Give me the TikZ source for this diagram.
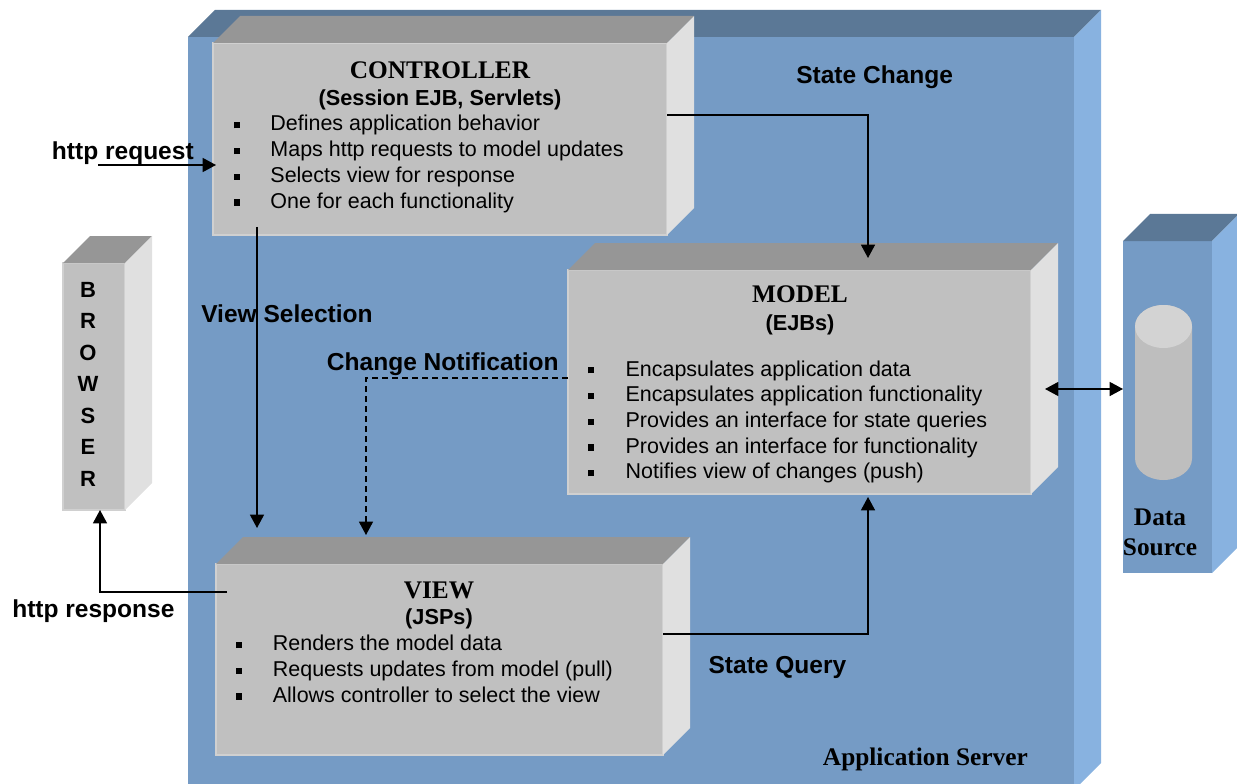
\documentclass[tikz,border=0pt]{standalone}
\usepackage{fontspec}
\setmainfont{Liberation Serif}
\newfontfamily\labfont{Liberation Sans}
\usetikzlibrary{arrows.meta,calc,fit}

\definecolor{srvFront}{HTML}{759BC5}
\definecolor{srvTop}{HTML}{5B7896}
\definecolor{srvSide}{HTML}{88B2E0}
\definecolor{boxFront}{HTML}{C0C0C0}
\definecolor{boxTop}{HTML}{969696}
\definecolor{boxSide}{HTML}{E0E0E0}
\definecolor{boxRim}{HTML}{D0D0D0}
\definecolor{cylBody}{HTML}{BEBEBE}
\definecolor{cylTop}{HTML}{D3D3D3}

% top and right faces of a block whose front face is the node #1
\newcommand\boxfaces[3]{%
  \fill[#2] (#1.north west) -- ++(27,-27) -- ($(#1.north east)+(27,-27)$) -- (#1.north east) -- cycle;
  \fill[#3] (#1.north east) -- ++(27,-27) -- ($(#1.south east)+(27,-27)$) -- (#1.south east) -- cycle;
}
\newcommand\sqb{\rule[2pt]{4.6pt}{4.6pt}}

\tikzset{
  srvface/.style={fill=srvFront, inner sep=0pt, outer sep=0pt},
  grayface/.style={fill=boxFront, draw=boxRim, line width=1pt, inner sep=0pt, outer sep=0pt},
  title/.style={font=\fontsize{19pt}{22pt}\selectfont\bfseries, anchor=base, inner sep=0pt},
  subtitle/.style={font=\labfont\fontsize{16.3pt}{19pt}\selectfont\bfseries, anchor=base, inner sep=0pt},
  flowlabel/.style={font=\labfont\fontsize{18.4pt}{22pt}\selectfont\bfseries, anchor=base west, inner sep=0pt},
  letter/.style={font=\labfont\fontsize{16.5pt}{20pt}\selectfont\bfseries, anchor=base, inner sep=0pt},
  itemlist/.style={font=\labfont\fontsize{16.1pt}{19.3pt}\selectfont, anchor=base west, inner sep=0pt},
  tip/.style={Triangle[length=10pt,width=10.5pt]},
  arr/.style={-{Triangle[length=10pt,width=10.5pt]}, line width=1.1pt},
  dblarr/.style={{Triangle[length=10pt,width=10.5pt]}-{Triangle[length=10pt,width=10.5pt]}, line width=1.1pt},
  notify/.style={arr, line width=1pt, dash pattern=on 4.5pt off 3pt},
}

\begin{document}
\begin{tikzpicture}[x=0.75pt, y=-0.75pt]
\useasboundingbox (0,0) rectangle (1237,784);
\clip (0,0) rectangle (1237,784);

% application server slab
\node[srvface, fit={(188,37)(1074,790)}] (server) {};
\boxfaces{server}{srvTop}{srvSide}

% data source column with its cylinder
\node[srvface, fit={(1123,241)(1212,573)}] (data) {};
\boxfaces{data}{srvTop}{srvSide}
\fill[cylBody] (1135,326.5) -- (1135,458.5) arc[start angle=180, end angle=360, x radius=28.5, y radius=-21.5]
  -- (1192,326.5) arc[start angle=0, end angle=180, x radius=28.5, y radius=-21.5] -- cycle;
\fill[cylTop] (1163.5,326.5) ellipse[x radius=28.5, y radius=21.5];

% browser column
\node[grayface, fit={(63,263)(125,510)}] (browser) {};
\boxfaces{browser}{boxTop}{boxSide}

% controller, model and view blocks
\node[grayface, fit={(213,43)(667,235)}] (ctrl) {};
\boxfaces{ctrl}{boxTop}{boxSide}
\node[grayface, fit={(568,270)(1031,494)}] (model) {};
\boxfaces{model}{boxTop}{boxSide}
\node[grayface, fit={(216,564)(663,755)}] (view) {};
\boxfaces{view}{boxTop}{boxSide}

% turning points of the connectors
\coordinate (reqStart) at (98,165);
\coordinate (scTurn) at (868,115);
\coordinate (sqTurn) at (868,634);
\coordinate (vsLine) at (257,0);
\coordinate (cnTurn) at (366,378);
\coordinate (rsTurn) at (100,592);
\coordinate (dsLink) at (1045,389);

% connectors
\draw[arr] (reqStart) -- ($(reqStart -| ctrl.west)+(3,0)$);
\draw[arr] (ctrl.east |- scTurn) -- (scTurn) -- ($(scTurn |- model.north)+(0,-12)$);
\draw[arr] (view.east |- sqTurn) -- (sqTurn) -- ($(sqTurn |- model.south)+(0,3)$);
\draw[arr] ($(vsLine |- ctrl.south)+(0,-8)$) -- ($(vsLine |- view.north)+(0,-36)$);
\draw[notify] (model.west |- cnTurn) -- (cnTurn) -- ($(cnTurn |- view.north)+(0,-29)$);
\draw[arr] ($(view.west |- rsTurn)+(11,0)$) -- (rsTurn) -- (rsTurn |- browser.south);
\draw[dblarr] (dsLink) -- (dsLink -| data.west);

% controller text
\node[title] (ctrlTitle) at (440,78.3) {CONTROLLER};
\node[subtitle] (ctrlSub) at (440,106) {(Session EJB, Servlets)};
\node[itemlist] (ctrlItems) at (233.5,131) {\begin{tabular}[t]{@{}p{27.5pt}@{}l@{}}
\sqb & Defines application behavior\\
\sqb & Maps http requests to model updates\\
\sqb & Selects view for response\\
\sqb & One for each functionality
\end{tabular}};

% model text
\node[title] (modelTitle) at (800,302.7) {MODEL};
\node[subtitle] (modelSub) at (800,330) {(EJBs)};
\node[itemlist] (modelItems) at (588,376) {\begin{tabular}[t]{@{}p{28pt}@{}l@{}}
\sqb & Encapsulates application data\\
\sqb & Encapsulates application functionality\\
\sqb & Provides an interface for state queries\\
\sqb & Provides an interface for functionality\\
\sqb & Notifies view of changes (push)
\end{tabular}};

% view text
\node[title] (viewTitle) at (439,598.3) {VIEW};
\node[subtitle] (viewSub) at (439,624.3) {(JSPs)};
\node[itemlist] (viewItems) at (235.3,650.7) {\begin{tabular}[t]{@{}p{28pt}@{}l@{}}
\sqb & Renders the model data\\
\sqb & Requests updates from model (pull)\\
\sqb & Allows controller to select the view
\end{tabular}};

% browser lettering
\foreach \ch [count=\i] in {B,R,O,W,S,E,R}
  \node[letter] (br\i) at (88,{297.3+31.5*(\i-1)}) {\ch};

% data source and server captions
\node[title] (dataL1) at (1160,525) {Data};
\node[title] (dataL2) at (1160,555) {Source};
\node[title, anchor=base west] (srvLabel) at (822.7,765) {Application Server};

% connector labels
\node[flowlabel] (lblReq) at (51.7,160) {http request};
\node[flowlabel] (lblResp) at (12,617) {http response};
\node[flowlabel] (lblVS) at (201,322) {View Selection};
\node[flowlabel] (lblCN) at (326.7,370.7) {Change Notification};
\node[flowlabel] (lblSC) at (796,84) {State Change};
\node[flowlabel] (lblSQ) at (708.3,673.3) {State Query};
\end{tikzpicture}
\end{document}
